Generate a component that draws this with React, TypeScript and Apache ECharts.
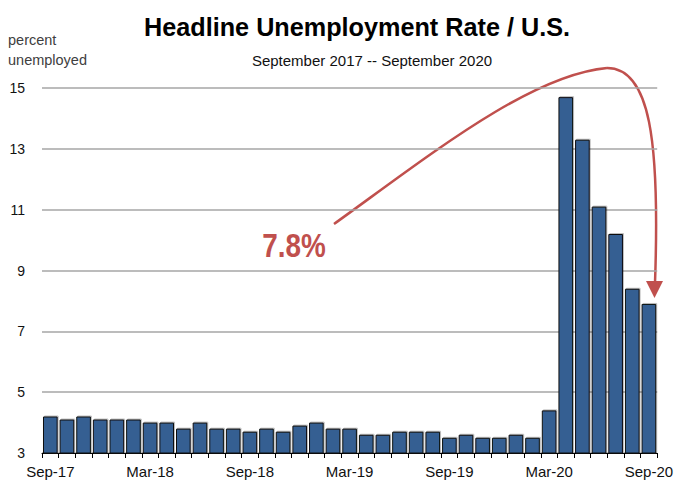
import React, { useEffect, useRef } from "react";
import * as echarts from "echarts";

const months = [
  "Sep-17", "Oct-17", "Nov-17", "Dec-17", "Jan-18", "Feb-18", "Mar-18", "Apr-18", "May-18", "Jun-18", "Jul-18", "Aug-18",
  "Sep-18", "Oct-18", "Nov-18", "Dec-18", "Jan-19", "Feb-19", "Mar-19", "Apr-19", "May-19", "Jun-19", "Jul-19", "Aug-19",
  "Sep-19", "Oct-19", "Nov-19", "Dec-19", "Jan-20", "Feb-20", "Mar-20", "Apr-20", "May-20", "Jun-20", "Jul-20", "Aug-20",
  "Sep-20",
];
const rates = [
  4.2, 4.1, 4.2, 4.1, 4.1, 4.1, 4.0, 4.0, 3.8, 4.0, 3.8, 3.8,
  3.7, 3.8, 3.7, 3.9, 4.0, 3.8, 3.8, 3.6, 3.6, 3.7, 3.7, 3.7,
  3.5, 3.6, 3.5, 3.5, 3.6, 3.5, 4.4, 14.7, 13.3, 11.1, 10.2, 8.4,
  7.9,
];
const yMin = 3;
const yMax = 15;
const yStep = 2;

const titleText = "Headline Unemployment Rate / U.S.";
const subtitleText = "September 2017 -- September 2020";
const unitLines = ["percent", "unemployed"];
const calloutText = "7.8%";

const SANS = "'Liberation Sans', Arial, sans-serif";
const RED = "#C0504D";

export default function App() {
  const ref = useRef<HTMLDivElement>(null);
  useEffect(() => {
    if (!ref.current) return;
    const chart = echarts.init(ref.current, null, { renderer: "svg" });
    chart.setOption({
      animation: false,
      backgroundColor: "#ffffff",
      grid: { left: 42, right: 13, top: 88, bottom: 31, containLabel: false },
      xAxis: {
        type: "category",
        data: months,
        boundaryGap: true,
        axisLine: { show: true, lineStyle: { color: "#000", width: 1 } },
        axisTick: { show: true, interval: 0, length: 5, lineStyle: { color: "#000" } },
        axisLabel: { interval: 5, color: "#111", fontSize: 15, fontFamily: SANS, margin: 11 },
      },
      yAxis: {
        type: "value",
        min: yMin,
        max: yMax,
        interval: yStep,
        axisLine: { show: false },
        axisTick: { show: false },
        axisLabel: { color: "#111", fontSize: 14, fontFamily: SANS, margin: 17 },
        splitLine: { show: true, lineStyle: { color: "#A6A6A6", width: 1.5 } },
      },
      series: [
        {
          type: "bar",
          data: rates,
          barCategoryGap: "12%",
          itemStyle: {
            color: "#355E92",
            borderColor: "#111",
            borderWidth: 1,
            shadowColor: "rgba(0,0,0,0.25)",
            shadowOffsetX: 1,
            shadowOffsetY: -1,
            shadowBlur: 1,
          },
        },
      ],
      graphic: [
        {
          type: "text",
          x: 357,
          y: 27,
          scaleX: 0.97,
          style: {
            text: titleText,
            font: `bold 26px ${SANS}`,
            fill: "#000",
            align: "center",
            verticalAlign: "middle",
          },
        },
        {
          type: "text",
          x: 372,
          y: 60,
          style: {
            text: subtitleText,
            font: `15px ${SANS}`,
            fill: "#111",
            align: "center",
            verticalAlign: "middle",
          },
        },
        {
          type: "text",
          x: 8,
          y: 40,
          style: { text: unitLines[0], font: `14.5px ${SANS}`, fill: "#404040", verticalAlign: "middle" },
        },
        {
          type: "text",
          x: 8,
          y: 60,
          style: { text: unitLines[1], font: `14.5px ${SANS}`, fill: "#404040", verticalAlign: "middle" },
        },
        {
          type: "bezierCurve",
          shape: { x1: 334, y1: 224, cpx1: 430, cpy1: 155, cpx2: 530, cpy2: 75, x2: 607, y2: 68 },
          style: { stroke: RED, lineWidth: 2.5, fill: null },
        },
        {
          type: "bezierCurve",
          shape: { x1: 607, y1: 68, cpx1: 650, cpy1: 68, cpx2: 660, cpy2: 140, x2: 655, y2: 283 },
          style: { stroke: RED, lineWidth: 2.5, fill: null },
        },
        {
          type: "polygon",
          shape: { points: [[646, 281], [663, 281], [654.5, 298]] },
          style: { fill: RED },
        },
        {
          type: "text",
          x: 294,
          y: 246,
          scaleX: 0.82,
          style: {
            text: calloutText,
            font: `bold 34px ${SANS}`,
            fill: RED,
            align: "center",
            verticalAlign: "middle",
          },
        },
      ],
    });
    return () => chart.dispose();
  }, []);
  return <div ref={ref} style={{ width: 676, height: 484, position: "absolute", left: 0, top: 0 }} />;
}
